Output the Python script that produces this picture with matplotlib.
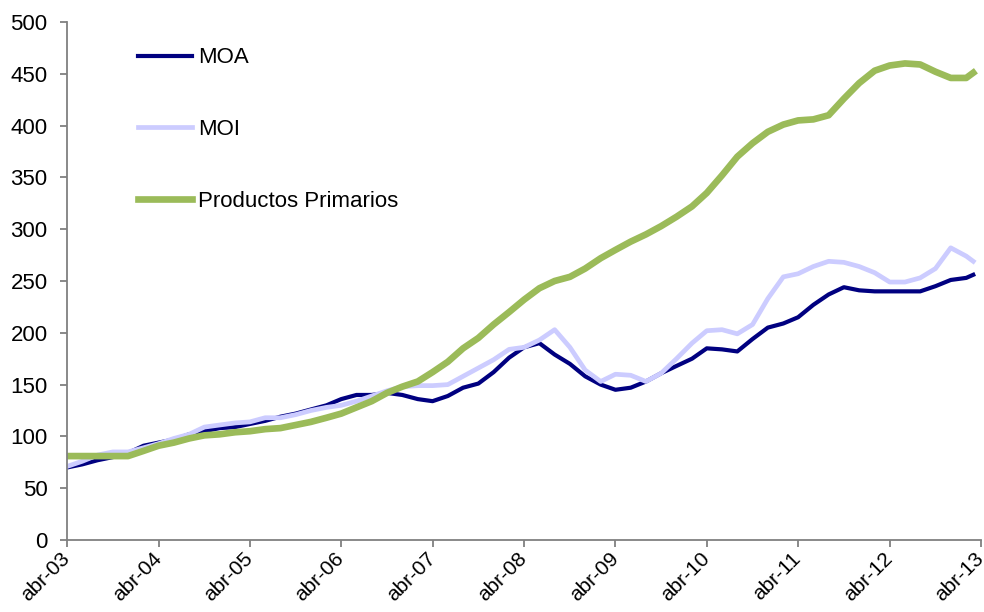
import pandas as pd
import matplotlib
matplotlib.use("Agg")
import matplotlib.pyplot as plt
import matplotlib.transforms as mtransforms

plt.rcParams['font.family'] = ['Liberation Sans', 'DejaVu Sans']

# Fechas: cada dos meses desde abr-03, mas el ultimo dato de mar-13
fechas = list(pd.date_range('2003-04-01', periods=60, freq='2MS')) + [pd.Timestamp('2013-03-01')]

moa = [70, 73, 77, 80, 84, 91, 94, 97, 102, 105,
       108, 109, 112, 115, 119, 122, 126, 130, 136, 140,
       140, 142, 140, 136, 134, 139, 147, 151, 162, 176,
       186, 190, 179, 170, 158, 150, 145, 147, 153, 161,
       168, 175, 185, 184, 182, 194, 205, 209, 215, 227,
       237, 244, 241, 240, 240, 240, 240, 245, 251, 253,
       256]

moi = [71, 76, 82, 85, 85, 89, 93, 98, 102, 109,
       111, 113, 114, 118, 118, 121, 125, 128, 130, 134,
       139, 144, 148, 149, 149, 150, 158, 166, 174, 184,
       186, 193, 203, 186, 164, 153, 160, 159, 153, 161,
       175, 190, 202, 203, 199, 208, 233, 254, 257, 264,
       269, 268, 264, 258, 249, 249, 253, 262, 282, 274,
       269]

primarios = [81, 81, 81, 81, 81, 86, 91, 94, 98, 101,
             102, 104, 105, 107, 108, 111, 114, 118, 122, 128,
             134, 142, 148, 153, 162, 172, 185, 195, 208, 220,
             232, 243, 250, 254, 262, 272, 280, 288, 295, 303,
             312, 322, 335, 352, 370, 383, 394, 401, 405, 406,
             410, 426, 441, 453, 458, 460, 459, 452, 446, 446,
             451]

ticks_x = pd.date_range('2003-04-01', periods=11, freq='12MS')
etiquetas_x = ['abr-03', 'abr-04', 'abr-05', 'abr-06', 'abr-07', 'abr-08',
               'abr-09', 'abr-10', 'abr-11', 'abr-12', 'abr-13']

fig = plt.figure(figsize=(9.84, 6.12), dpi=100)
ax = fig.add_axes([67 / 984, 72 / 612, 914 / 984, 518 / 612])

ax.plot(fechas, moa, color='#000080', linewidth=3.0, label='MOA')
ax.plot(fechas, moi, color='#CCCCFF', linewidth=3.4, label='MOI')
ax.plot(fechas, primarios, color='#9BBB59', linewidth=4.8, label='Productos Primarios')

ax.set_xlim(ticks_x[0], ticks_x[-1])
ax.set_ylim(0, 500)
ax.set_yticks(range(0, 501, 50))
ax.set_xticks(ticks_x)
ax.set_xticklabels(etiquetas_x, rotation=45, ha='right', va='center',
                   rotation_mode='anchor', fontsize=15)

# corrimiento a la izquierda de las etiquetas del eje x
desplaza = mtransforms.ScaledTranslation(-10 / 100, 0, fig.dpi_scale_trans)
for etiqueta in ax.get_xticklabels():
    etiqueta.set_transform(etiqueta.get_transform() + desplaza)

for lado in ['top', 'right']:
    ax.spines[lado].set_visible(False)
for lado in ['left', 'bottom']:
    ax.spines[lado].set_color('#808080')
    ax.spines[lado].set_linewidth(1.3)
ax.tick_params(axis='both', direction='out', length=5, color='#808080', width=1.3,
               labelcolor='black')
ax.tick_params(axis='y', pad=9, labelsize=16)
ax.tick_params(axis='x', pad=6)

ax.legend(loc='upper left', bbox_to_anchor=(71 / 914, 0.951), frameon=False,
          fontsize=16, borderpad=0, borderaxespad=0, handlelength=2.45,
          handletextpad=0.27, labelspacing=2.28)

fig.savefig('out.png', dpi=100)
